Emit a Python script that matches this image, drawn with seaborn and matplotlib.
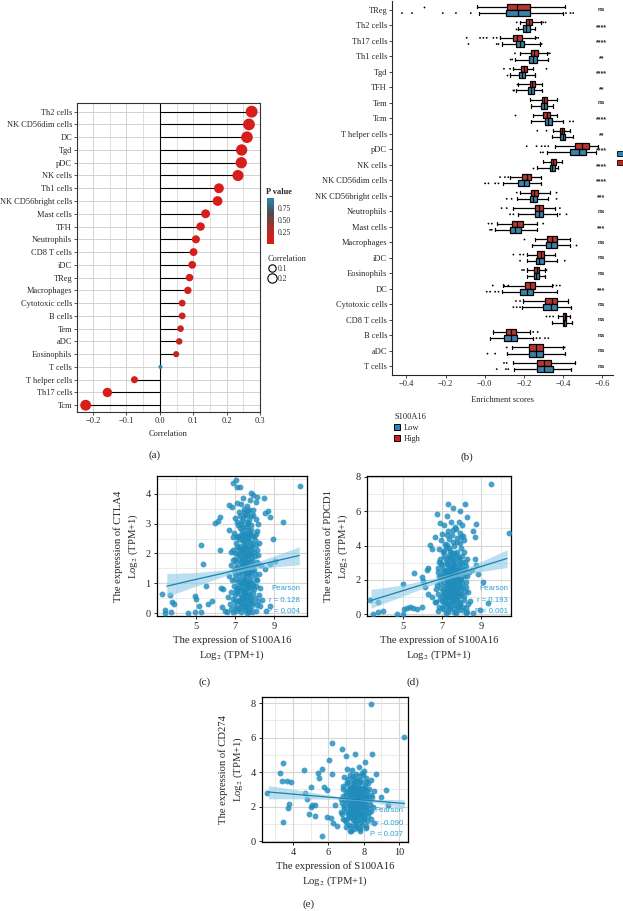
import numpy as np
import pandas as pd
import matplotlib
matplotlib.use('Agg')
import matplotlib.pyplot as plt
from matplotlib.colors import LinearSegmentedColormap, Normalize
from matplotlib.lines import Line2D
from matplotlib.patches import Patch, Rectangle
import seaborn as sns

# ---------------- (a) correlation lollipop ----------------
corr_cells = ['Th2 cells', 'NK CD56dim cells', 'DC', 'Tgd', 'pDC', 'NK cells', 'Th1 cells',
              'NK CD56bright cells', 'Mast cells', 'TFH', 'Neutrophils', 'CD8 T cells', 'iDC',
              'TReg', 'Macrophages', 'Cytotoxic cells', 'B cells', 'Tem', 'aDC', 'Eosinophils',
              'T cells', 'T helper cells', 'Th17 cells', 'Tcm']
corr_values = [0.275, 0.267, 0.261, 0.245, 0.244, 0.234, 0.177, 0.173, 0.137, 0.122, 0.108,
               0.101, 0.097, 0.089, 0.084, 0.067, 0.067, 0.062, 0.058, 0.049, 0.002, -0.076,
               -0.157, -0.222]
corr_pvalues = [0.0, 0.0, 0.0, 0.0, 0.0, 0.0, 0.0, 0.0, 0.001, 0.005, 0.01, 0.02, 0.02, 0.04,
                0.05, 0.11, 0.12, 0.14, 0.17, 0.25, 0.96, 0.08, 0.0, 0.0]

# ---------------- (b) enrichment boxplots ----------------
b_cells = ['TReg', 'Th2 cells', 'Th17 cells', 'Th1 cells', 'Tgd', 'TFH', 'Tem', 'Tcm',
           'T helper cells', 'pDC', 'NK cells', 'NK CD56dim cells', 'NK CD56bright cells',
           'Neutrophils', 'Mast cells', 'Macrophages', 'iDC', 'Eosinophils', 'DC',
           'Cytotoxic cells', 'CD8 T cells', 'B cells', 'aDC', 'T cells']
sig_labels = ['ns', '****', '****', '**', '****', '**', 'ns', '****', '**', '****', '****',
              '****', '***', 'ns', '***', 'ns', 'ns', 'ns', '***', 'ns', 'ns', 'ns', 'ns', 'ns']
# five-number summaries (low whisker, q1, median, q3, high whisker)
high_five = [(-0.041, 0.115, 0.166, 0.231, 0.408), (0.180, 0.210, 0.225, 0.242, 0.285),
             (0.078, 0.146, 0.166, 0.192, 0.256), (0.180, 0.234, 0.251, 0.270, 0.315),
             (0.146, 0.185, 0.200, 0.215, 0.247), (0.171, 0.231, 0.242, 0.256, 0.290),
             (0.231, 0.290, 0.303, 0.319, 0.370), (0.247, 0.298, 0.315, 0.332, 0.370),
             (0.349, 0.383, 0.393, 0.405, 0.434), (0.358, 0.459, 0.498, 0.532, 0.578),
             (0.298, 0.337, 0.349, 0.363, 0.392), (0.129, 0.188, 0.214, 0.234, 0.285),
             (0.180, 0.236, 0.253, 0.273, 0.332), (0.146, 0.256, 0.276, 0.298, 0.358),
             (0.061, 0.137, 0.166, 0.197, 0.264), (0.256, 0.315, 0.341, 0.366, 0.437),
             (0.214, 0.264, 0.285, 0.303, 0.358), (0.214, 0.253, 0.264, 0.278, 0.307),
             (0.095, 0.205, 0.231, 0.258, 0.341), (0.197, 0.307, 0.341, 0.370, 0.425),
             (0.375, 0.400, 0.410, 0.414, 0.434), (0.044, 0.107, 0.132, 0.158, 0.231),
             (0.137, 0.227, 0.259, 0.295, 0.400), (0.146, 0.264, 0.303, 0.336, 0.459)]
low_five = [(-0.029, 0.108, 0.171, 0.231, 0.400), (0.171, 0.193, 0.210, 0.231, 0.256),
            (0.086, 0.158, 0.180, 0.202, 0.281), (0.154, 0.225, 0.244, 0.264, 0.324),
            (0.129, 0.175, 0.188, 0.205, 0.256), (0.159, 0.222, 0.237, 0.253, 0.290),
            (0.234, 0.286, 0.302, 0.319, 0.349), (0.236, 0.307, 0.324, 0.341, 0.400),
            (0.341, 0.386, 0.398, 0.408, 0.451), (0.315, 0.437, 0.481, 0.514, 0.569),
            (0.264, 0.332, 0.344, 0.358, 0.375), (0.095, 0.171, 0.200, 0.225, 0.285),
            (0.163, 0.231, 0.247, 0.268, 0.324), (0.171, 0.256, 0.276, 0.298, 0.366),
            (0.053, 0.129, 0.154, 0.183, 0.264), (0.239, 0.310, 0.336, 0.366, 0.434),
            (0.214, 0.259, 0.278, 0.302, 0.366), (0.214, 0.251, 0.263, 0.275, 0.307),
            (0.086, 0.180, 0.214, 0.247, 0.366), (0.188, 0.298, 0.336, 0.370, 0.442),
            (0.344, 0.400, 0.405, 0.412, 0.447), (0.027, 0.098, 0.132, 0.163, 0.247),
            (0.112, 0.224, 0.259, 0.295, 0.408), (0.149, 0.264, 0.303, 0.346, 0.442)]
high_outliers = [[-0.312], [0.163, 0.29, 0.298, 0.31],
                 [-0.092, -0.024, -0.007, 0.01, 0.044, 0.061, 0.264, 0.273],
                 [0.154, 0.324, 0.332], [0.098, 0.129, 0.315], [0.163], [], [0.154],
                 [0.268, 0.315], [0.214, 0.264, 0.29, 0.307, 0.324], [], [0.078, 0.103, 0.12],
                 [0.163, 0.366], [0.086, 0.112, 0.383], [0.019, 0.036, 0.298], [0.2],
                 [0.146, 0.18, 0.197], [0.19, 0.2, 0.315],
                 [0.041, 0.098, 0.12, 0.349, 0.366, 0.383], [0.159, 0.18],
                 [0.315, 0.332, 0.349], [0.247, 0.27], [0.112, 0.408], [0.098, 0.112]]
low_outliers = [[-0.422, -0.371, -0.214, -0.147, -0.071, 0.414, 0.437, 0.451], [0.159],
                [-0.083, 0.061, 0.07, 0.29], [0.132, 0.14], [0.112], [0.146, 0.15], [],
                [0.434, 0.451], [], [0.285, 0.297], [0.247], [0.002, 0.019, 0.053, 0.07],
                [0.112, 0.137, 0.366], [0.129, 0.146, 0.383, 0.417], [0.027, 0.036], [0.464],
                [0.18, 0.408], [], [0.01, 0.027, 0.053, 0.07], [0.146, 0.163, 0.18], [],
                [0.264, 0.281, 0.307, 0.324], [0.014, 0.053], [0.061, 0.108, 0.12]]
b_tick_values = [-0.4, -0.2, 0.0, 0.2, 0.4, 0.6]
b_tick_labels = ['\u22120.4', '\u22120.2', '\u22120.0', '\u22120.2', '\u22120.4', '\u22120.6']

# ---------------- (c) CTLA4 vs S100A16 ----------------
c_points = [(3.24, 0.63), (3.67, 0.6), (3.75, 0.38), (3.88, 0.3), (3.41, 0.11), (3.41, 0.0),
            (3.7, 0.02), (4.6, 0.0), (4.94, 0.02), (4.97, 0.58), (5.0, 0.47), (5.17, 0.24),
            (5.25, 0.02), (5.34, 1.63), (5.25, 2.29), (5.5, 0.9), (5.6, 0.3), (5.8, 0.41),
            (5.97, 3.02), (6.15, 3.08), (6.23, 2.13), (6.23, 3.24), (6.32, 0.2), (6.49, 0.08),
            (6.28, 0.85), (6.4, 0.8), (6.88, 4.36), (7.12, 4.24), (7.05, 4.47), (7.26, 4.22),
            (6.69, 3.63), (6.83, 3.56), (7.29, 3.67), (7.85, 4.02), (8.11, 3.91), (8.06, 3.74),
            (7.68, 3.44), (8.5, 3.86), (8.53, 3.36), (8.7, 3.41), (8.79, 3.24), (9.46, 3.06),
            (10.35, 4.26), (8.95, 2.5), (9.05, 1.75), (8.79, 1.63), (8.53, 1.47), (8.79, 0.22),
            (8.62, 0.08), (8.28, 0.24),
            (6.6, 0.05), (6.9, 0.02), (7.05, 0.08), (7.3, 0.03), (7.5, 0.1), (7.7, 0.05),
            (7.9, 0.02), (8.1, 0.07), (7.2, 0.12), (7.6, 0.0),
            (6.75, 0.3), (7.0, 0.25), (7.15, 0.4), (7.35, 0.35), (7.55, 0.28), (7.75, 0.45),
            (7.95, 0.33), (8.2, 0.4), (7.45, 0.5), (6.9, 0.48), (7.85, 0.2),
            (6.8, 0.7), (7.0, 0.6), (7.1, 0.85), (7.25, 0.65), (7.4, 0.95), (7.5, 0.72),
            (7.65, 0.58), (7.8, 0.88), (7.95, 0.66), (8.1, 0.9), (7.3, 0.8), (7.6, 0.98),
            (6.95, 0.92), (7.7, 0.75), (8.25, 0.6),
            (6.85, 1.1), (7.0, 1.3), (7.15, 1.05), (7.3, 1.4), (7.45, 1.15), (7.55, 1.35),
            (7.7, 1.05), (7.85, 1.25), (8.0, 1.45), (8.15, 1.1), (7.2, 1.25), (7.6, 1.48),
            (7.4, 1.0), (7.9, 1.02), (6.95, 1.45),
            (6.8, 1.6), (7.0, 1.8), (7.1, 1.55), (7.25, 1.95), (7.35, 1.7), (7.5, 1.6),
            (7.65, 1.85), (7.75, 1.55), (7.9, 1.75), (8.05, 1.9), (8.2, 1.65), (7.45, 1.92),
            (7.15, 1.98), (7.6, 1.7), (7.85, 1.98),
            (6.9, 2.1), (7.05, 2.35), (7.2, 2.15), (7.35, 2.45), (7.5, 2.25), (7.6, 2.05),
            (7.75, 2.4), (7.9, 2.2), (8.05, 2.45), (7.3, 2.05), (7.65, 2.5), (8.15, 2.1),
            (7.0, 2.0), (7.45, 2.38),
            (6.95, 2.7), (7.1, 2.55), (7.25, 2.85), (7.4, 2.6), (7.55, 2.9), (7.7, 2.65),
            (7.85, 2.95), (8.0, 2.6), (7.3, 3.0), (7.65, 2.8), (8.15, 2.75), (7.15, 2.95),
            (7.0, 3.2), (7.2, 3.4), (7.35, 3.1), (7.5, 3.3), (7.6, 3.05), (7.8, 3.25),
            (7.95, 3.45), (8.1, 3.15), (7.45, 3.5), (7.7, 3.45),
            (7.1, 3.7), (7.4, 3.85), (7.6, 3.6), (7.75, 3.8), (7.95, 3.95),
            (7.22, 0.45), (7.38, 0.55), (7.52, 0.4), (7.68, 0.3), (7.82, 0.52), (7.28, 1.12),
            (7.42, 1.32), (7.58, 1.2), (7.72, 1.38), (7.88, 1.5), (7.32, 1.55), (7.48, 1.75),
            (7.62, 1.58), (7.78, 1.68), (7.92, 1.52), (7.26, 2.25), (7.42, 2.18), (7.58, 2.32),
            (7.72, 2.22), (7.86, 2.32), (7.36, 2.75), (7.52, 2.7), (7.66, 2.98), (7.8, 2.78),
            (7.12, 0.72), (7.02, 1.15), (7.08, 1.7), (7.18, 2.6), (7.98, 0.8), (8.02, 1.3),
            (8.08, 2.3), (7.55, 0.85), (7.45, 0.62), (7.65, 0.92), (7.35, 1.82), (7.7, 1.95),
            (7.5, 2.5), (7.4, 3.2), (7.6, 3.3), (7.3, 0.2),
            (6.65, 0.55), (6.72, 1.25), (6.78, 2.05), (6.82, 0.12), (6.88, 1.78), (6.92, 2.55),
            (6.98, 0.4), (7.03, 0.78), (7.06, 1.52), (7.09, 2.2), (7.11, 3.05), (7.13, 0.18),
            (7.17, 1.38), (7.19, 1.82), (7.21, 2.48), (7.23, 0.88), (7.24, 3.25), (7.27, 0.32),
            (7.29, 1.68), (7.31, 2.62), (7.33, 1.02), (7.34, 0.52), (7.37, 2.1), (7.39, 0.78),
            (7.41, 1.58), (7.43, 2.88), (7.44, 0.25), (7.46, 1.1), (7.47, 2.02), (7.49, 3.4),
            (7.51, 1.48), (7.53, 0.68), (7.54, 2.62), (7.56, 1.88), (7.57, 0.18), (7.59, 1.05),
            (7.61, 2.15), (7.62, 0.48), (7.64, 1.72), (7.66, 2.55), (7.67, 1.32), (7.69, 0.88),
            (7.71, 3.12), (7.73, 0.15), (7.74, 2.0), (7.76, 1.12), (7.77, 2.7), (7.79, 0.62),
            (7.81, 1.42), (7.83, 2.12), (7.84, 0.35), (7.87, 1.85), (7.89, 2.58), (7.91, 0.95),
            (7.93, 3.3), (7.96, 1.62), (7.99, 2.05), (8.03, 0.5), (8.06, 1.15), (8.09, 2.65),
            (8.12, 1.72), (8.14, 0.28), (8.18, 1.95), (8.22, 1.3), (8.26, 2.35), (8.3, 0.85),
            (8.35, 1.6), (8.4, 0.45), (6.7, 2.8), (8.2, 3.0)]
c_fit_x = [3.5, 5.0, 6.5, 7.5, 8.5, 10.3]
c_fit_y = [0.90, 1.13, 1.35, 1.51, 1.66, 1.93]
c_fit_lo = [0.55, 0.90, 1.25, 1.43, 1.52, 1.62]
c_fit_hi = [1.32, 1.36, 1.45, 1.59, 1.80, 2.22]

# ---------------- (d) PDCD1 vs S100A16 ----------------
d_points = [(9.48, 7.59), (10.38, 4.76), (3.35, 0.85), (3.49, 0.0), (3.77, 0.14), (4.03, 0.19),
            (3.77, 0.71), (4.71, 0.0), (5.04, 0.0), (5.08, 0.32), (5.22, 0.38), (5.38, 0.42),
            (5.55, 0.36), (5.72, 0.32), (5.97, 0.42), (5.04, 1.74), (5.58, 2.39), (5.97, 2.15),
            (6.05, 1.95), (6.22, 2.56), (6.3, 2.72), (6.39, 4.05), (6.47, 3.8), (6.64, 4.47),
            (6.73, 5.82), (6.9, 5.34), (7.32, 6.4), (7.24, 5.72), (8.17, 6.4), (7.91, 6.01),
            (7.58, 6.2), (8.25, 5.64), (8.59, 4.87), (8.75, 5.26), (8.67, 4.49), (8.67, 3.24),
            (8.5, 2.56), (8.75, 2.85), (8.84, 2.37), (9.09, 1.88), (9.35, 0.63), (8.92, 0.24),
            (8.59, 0.05), (8.25, 0.14), (6.13, 1.58), (6.3, 1.2), (6.52, 1.0), (6.64, 0.71),
            (6.8, 0.2), (7.0, 0.35), (7.2, 0.1), (7.4, 0.3), (7.6, 0.15), (7.8, 0.4), (8.0, 0.25),
            (8.2, 0.1), (7.3, 0.45), (7.7, 0.05),
            (6.7, 0.7), (6.9, 0.9), (7.1, 0.6), (7.3, 0.8), (7.5, 0.65), (7.7, 0.95), (7.9, 0.7),
            (8.1, 0.85), (8.3, 0.6), (7.45, 0.98), (7.15, 0.85), (7.85, 0.55),
            (6.8, 1.2), (7.0, 1.05), (7.2, 1.4), (7.35, 1.15), (7.5, 1.3), (7.65, 1.1),
            (7.8, 1.45), (7.95, 1.2), (8.15, 1.35), (7.4, 1.48), (7.1, 1.25), (7.6, 1.4),
            (6.75, 1.7), (6.95, 1.55), (7.1, 1.9), (7.25, 1.65), (7.4, 1.85), (7.55, 1.6),
            (7.7, 1.95), (7.85, 1.75), (8.0, 1.6), (8.2, 1.9), (7.45, 1.72), (7.65, 1.58),
            (6.85, 2.2), (7.05, 2.4), (7.2, 2.1), (7.35, 2.3), (7.5, 2.45), (7.65, 2.15),
            (7.8, 2.35), (7.95, 2.05), (8.1, 2.4), (7.3, 2.48), (7.6, 2.3), (8.25, 2.2),
            (6.8, 2.7), (7.0, 2.9), (7.15, 2.6), (7.3, 2.85), (7.45, 2.65), (7.6, 2.95),
            (7.75, 2.7), (7.9, 2.9), (8.05, 2.6), (8.2, 2.8), (7.55, 2.55), (7.25, 2.52),
            (6.9, 3.2), (7.1, 3.4), (7.25, 3.1), (7.4, 3.35), (7.55, 3.15), (7.7, 3.45),
            (7.85, 3.2), (8.0, 3.4), (8.15, 3.05), (7.35, 3.48),
            (6.85, 3.8), (7.05, 3.6), (7.2, 3.9), (7.4, 3.7), (7.6, 3.95), (7.75, 3.65),
            (7.95, 3.85), (8.1, 3.6), (7.5, 3.55),
            (6.95, 4.3), (7.15, 4.1), (7.35, 4.4), (7.55, 4.2), (7.75, 4.45), (7.9, 4.15),
            (8.1, 4.35), (7.25, 4.05),
            (7.0, 4.7), (7.3, 4.85), (7.5, 4.6), (7.7, 4.95), (7.9, 4.75), (8.05, 4.55),
            (7.1, 5.2), (7.45, 5.35), (7.65, 5.1), (7.85, 5.4), (8.0, 5.2),
            (7.3, 0.6), (7.5, 0.9), (7.7, 0.75), (7.35, 1.35), (7.55, 1.15), (7.75, 1.25),
            (7.3, 1.95), (7.5, 2.05), (7.7, 1.8), (7.4, 2.7), (7.6, 2.75), (7.8, 2.55),
            (7.2, 0.95), (7.9, 1.05), (7.45, 3.05), (7.65, 3.25), (7.2, 2.25), (7.85, 2.0),
            (6.72, 1.45), (6.78, 2.45), (6.83, 0.45), (6.87, 3.05), (6.92, 1.8), (6.97, 2.15),
            (7.02, 0.75), (7.04, 1.35), (7.07, 2.65), (7.1, 3.7), (7.12, 0.3), (7.14, 1.62),
            (7.17, 2.3), (7.19, 3.2), (7.22, 0.65), (7.24, 1.18), (7.26, 2.0), (7.28, 2.9),
            (7.31, 1.45), (7.33, 0.15), (7.35, 2.58), (7.37, 3.85), (7.39, 1.02), (7.41, 2.15),
            (7.43, 0.42), (7.46, 1.88), (7.48, 3.25), (7.5, 1.1), (7.52, 2.32), (7.54, 0.78),
            (7.56, 2.85), (7.58, 1.72), (7.6, 0.35), (7.62, 3.55), (7.64, 1.95), (7.66, 2.55),
            (7.68, 0.55), (7.7, 1.35), (7.72, 2.12), (7.74, 4.2), (7.76, 0.9), (7.78, 2.98),
            (7.8, 1.65), (7.82, 0.25), (7.84, 2.42), (7.86, 3.35), (7.88, 1.22), (7.9, 2.05),
            (7.93, 0.62), (7.96, 2.75), (7.98, 1.45), (8.01, 3.05), (8.04, 1.85), (8.07, 0.45),
            (8.1, 2.2), (8.13, 1.05), (8.16, 2.65), (8.2, 1.6), (8.24, 0.35), (8.28, 3.2),
            (8.32, 1.3), (8.36, 2.45), (8.4, 0.8), (7.55, 4.9), (7.25, 4.6), (7.95, 4.5),
            (6.95, 2.9), (7.15, 1.05)]
d_fit_x = [3.4, 5.0, 6.5, 7.5, 8.5, 10.3]
d_fit_y = [0.80, 1.37, 1.90, 2.26, 2.61, 3.25]
d_fit_lo = [0.35, 1.05, 1.72, 2.13, 2.40, 2.72]
d_fit_hi = [1.45, 1.70, 2.08, 2.38, 2.82, 3.75]

# ---------------- (e) CD274 vs S100A16 ----------------
e_points = [(8.42, 7.96), (10.29, 6.03), (2.52, 2.76), (3.44, 4.53), (3.26, 3.95), (3.35, 3.49),
            (3.64, 3.49), (3.89, 3.43), (3.74, 2.13), (3.7, 1.94), (3.44, 1.1), (4.6, 4.1),
            (4.7, 2.76), (4.8, 2.47), (4.99, 3.14), (5.05, 2.08), (5.0, 1.98), (5.26, 2.08),
            (4.9, 1.56), (5.26, 1.44), (5.4, 3.95), (5.47, 3.68), (5.62, 4.2), (5.72, 3.14),
            (5.9, 2.95), (5.62, 0.29), (5.9, 1.4), (6.02, 4.72), (6.2, 3.91), (6.2, 5.68),
            (6.77, 5.33), (7.0, 4.91), (7.48, 5.06), (8.45, 5.02), (8.07, 4.59), (6.36, 2.08),
            (6.13, 1.34), (6.27, 1.05), (6.51, 0.86), (7.2, 0.57), (7.76, 0.57), (8.13, 0.76),
            (8.6, 1.05), (8.42, 3.52), (8.7, 3.91), (9.26, 2.95), (8.98, 2.57), (9.36, 2.08),
            (7.0, 0.8), (7.3, 0.6), (7.55, 0.9), (7.8, 0.7), (8.1, 0.85), (7.15, 0.95),
            (6.8, 1.3), (7.0, 1.1), (7.2, 1.4), (7.4, 1.2), (7.6, 1.45), (7.8, 1.05), (8.0, 1.35),
            (8.2, 1.15), (7.5, 1.0), (8.4, 1.3),
            (6.7, 1.7), (6.9, 1.9), (7.1, 1.55), (7.3, 1.8), (7.5, 1.65), (7.7, 1.95), (7.9, 1.6),
            (8.1, 1.85), (8.3, 1.7), (7.4, 1.98), (7.6, 1.52), (8.0, 1.75),
            (6.75, 2.2), (6.95, 2.4), (7.15, 2.1), (7.35, 2.35), (7.55, 2.15), (7.75, 2.45),
            (7.95, 2.2), (8.15, 2.4), (8.35, 2.1), (7.45, 2.48), (7.65, 2.3), (7.85, 2.05),
            (8.05, 2.3), (7.25, 2.25),
            (6.8, 2.6), (7.0, 2.85), (7.2, 2.65), (7.4, 2.9), (7.6, 2.55), (7.8, 2.8), (8.0, 2.6),
            (8.2, 2.9), (8.4, 2.7), (7.3, 2.52), (7.5, 2.75), (7.7, 2.98), (7.9, 2.7), (8.1, 2.55),
            (7.1, 2.95),
            (6.85, 3.2), (7.05, 3.4), (7.25, 3.1), (7.45, 3.3), (7.65, 3.15), (7.85, 3.45),
            (8.05, 3.2), (8.25, 3.35), (7.55, 3.48), (7.35, 3.05), (7.95, 3.05),
            (6.9, 3.7), (7.2, 3.85), (7.4, 3.6), (7.7, 3.75), (7.9, 3.95), (8.15, 3.65),
            (7.55, 3.9), (7.05, 4.2), (7.35, 4.1), (7.75, 4.3), (8.0, 4.05),
            (7.3, 1.6), (7.5, 1.85), (7.7, 1.7), (7.4, 2.1), (7.6, 2.4), (7.8, 2.25), (7.45, 2.65),
            (7.65, 2.85), (7.85, 2.6), (7.35, 2.75), (7.55, 3.0), (7.75, 3.1), (7.2, 1.85),
            (8.0, 2.5), (7.95, 2.95), (7.25, 2.95), (7.65, 1.25), (7.45, 1.4),
            (6.72, 2.45), (6.78, 1.55), (6.82, 3.0), (6.88, 2.05), (6.92, 1.25), (6.97, 2.7),
            (7.02, 1.75), (7.04, 3.3), (7.07, 2.25), (7.1, 1.35), (7.12, 3.6), (7.15, 2.5),
            (7.18, 1.65), (7.2, 3.05), (7.22, 2.0), (7.25, 0.85), (7.27, 2.8), (7.3, 2.15),
            (7.32, 3.35), (7.34, 1.4), (7.37, 2.45), (7.39, 3.75), (7.41, 1.75), (7.43, 2.95),
            (7.46, 2.25), (7.48, 1.15), (7.5, 3.2), (7.52, 2.0), (7.54, 2.6), (7.56, 1.45),
            (7.58, 3.55), (7.6, 2.2), (7.62, 1.75), (7.64, 2.95), (7.66, 0.75), (7.68, 2.5),
            (7.7, 3.35), (7.72, 1.45), (7.74, 2.15), (7.76, 2.85), (7.78, 1.85), (7.8, 3.55),
            (7.82, 2.4), (7.84, 1.2), (7.86, 3.0), (7.88, 2.05), (7.9, 1.5), (7.92, 2.65),
            (7.94, 3.85), (7.96, 1.95), (7.98, 2.4), (8.01, 1.25), (8.03, 3.1), (8.06, 2.15),
            (8.09, 1.6), (8.12, 2.75), (8.15, 3.4), (8.18, 1.95), (8.22, 2.55), (8.26, 1.45),
            (8.3, 3.0), (8.34, 2.35), (8.38, 1.75), (8.44, 2.55), (8.5, 1.95), (8.55, 2.9),
            (7.45, 0.7), (7.9, 0.95)]
e_fit_x = [2.6, 4.5, 6.5, 7.5, 8.5, 10.3]
e_fit_y = [2.85, 2.68, 2.51, 2.42, 2.34, 2.18]
e_fit_lo = [2.45, 2.45, 2.43, 2.37, 2.25, 1.92]
e_fit_hi = [3.22, 2.92, 2.60, 2.48, 2.43, 2.40]

# ---------------- style ----------------
sns.set_style('white')
plt.rcParams['font.family'] = ['Liberation Serif', 'DejaVu Serif']
plt.rcParams['mathtext.fontset'] = 'stix'
SANS = ['Liberation Sans', 'DejaVu Sans']
RED = '#d01f1c'
BLUE = '#2a86b8'
PT_BLUE = '#1f8cbc'
TXT_BLUE = '#2a9fd6'

W, H = 623, 911
fig = plt.figure(figsize=(W / 100, H / 100), dpi=100)


def px_axes(left, top, right, bottom):
    return fig.add_axes([left / W, 1 - bottom / H, (right - left) / W, (bottom - top) / H])


# ================= panel (a) =================
pval_cmap = LinearSegmentedColormap.from_list('pv', ['#d81e1a', '#b52a27', '#4d4d4d', '#2b84b5'],
                                              N=256)
ax_a = px_axes(77, 103, 260, 412)
pos = np.arange(len(corr_cells))
df_a = pd.DataFrame({'r': corr_values, 'pos': pos, 'p': corr_pvalues,
                     'size': np.abs(corr_values)})
ax_a.hlines(df_a['pos'], 0, df_a['r'], color='black', lw=0.8, zorder=2)
ax_a.axvline(0, color='black', lw=0.8, zorder=2)
sns.scatterplot(data=df_a, x='r', y='pos', hue='p', palette=pval_cmap, hue_norm=(0, 0.95),
                size='size', sizes=(8, 75), size_norm=(0, 0.28), linewidth=0, legend=False,
                ax=ax_a, zorder=3)
ax_a.set_ylim(len(corr_cells) - 1 + 0.53, -0.68)
ax_a.set_yticks(pos)
ax_a.set_yticklabels(corr_cells)
ax_a.set_xlim(-0.248, 0.300)
ax_a.set_xticks([-0.2, -0.1, 0.0, 0.1, 0.2, 0.3])
ax_a.set_xticks([-0.15, -0.05, 0.05, 0.15, 0.25], minor=True)
ax_a.grid(True, which='major', color='#d2d2d2', lw=0.7)
ax_a.grid(True, which='minor', axis='x', color='#d2d2d2', lw=0.5)
ax_a.set_axisbelow(True)
ax_a.tick_params(axis='both', which='major', labelsize=6, length=2, width=0.6, color='#333333',
                 pad=1.5, left=True, bottom=True)
ax_a.tick_params(which='minor', length=0)
for s in ax_a.spines.values():
    s.set_color('#333333')
    s.set_linewidth(0.8)
ax_a.set_xlabel('Correlation', fontsize=6, labelpad=4)
ax_a.set_ylabel('')

cax = px_axes(267, 198, 274, 244)
cb = fig.colorbar(plt.cm.ScalarMappable(norm=Normalize(0, 0.95), cmap=pval_cmap), cax=cax)
cb.set_ticks([0.25, 0.5, 0.75])
cb.set_ticklabels(['0.25', '0.50', '0.75'])
cb.outline.set_visible(False)
cax.tick_params(labelsize=5.5, length=1.5, width=0.5, color='white', pad=1)
fig.text(266 / W, 1 - 192 / H, 'P value', fontsize=6, fontweight='bold', va='center')

size_handles = [Line2D([], [], marker='o', ls='', markerfacecolor='none', markeredgecolor='black',
                       markeredgewidth=0.8, markersize=5.3),
                Line2D([], [], marker='o', ls='', markerfacecolor='none', markeredgecolor='black',
                       markeredgewidth=0.8, markersize=6.7)]
fig.legend(size_handles, ['0.1', '0.2'], title='Correlation', loc='upper left',
           bbox_to_anchor=(264 / W, 1 - 251 / H), frameon=False, fontsize=5.5,
           title_fontsize=6, handletextpad=0.3, labelspacing=0.25, borderpad=0,
           handlelength=1.0, alignment='left')
fig.text(155 / W, 1 - 455 / H, '(a)', fontsize=8, ha='center', va='center')

# ================= panel (b) =================
rows = []
for cell, hf, lf in zip(b_cells, high_five, low_five):
    for v in hf:
        rows.append((cell, 'High', v))
    for v in lf:
        rows.append((cell, 'Low', v))
box_df = pd.DataFrame(rows, columns=['cell', 'group', 'score'])
out_rows = []
for cell, ho, lo in zip(b_cells, high_outliers, low_outliers):
    for v in ho:
        out_rows.append((cell, 'High', v))
    for v in lo:
        out_rows.append((cell, 'Low', v))
out_df = pd.DataFrame(out_rows, columns=['cell', 'group', 'score'])

ax_b = px_axes(392, 1, 613, 375)
sns.stripplot(data=out_df, x='score', y='cell', hue='group', order=b_cells,
              hue_order=['High', 'Low'], palette={'High': 'black', 'Low': 'black'},
              dodge=True, jitter=False, size=1.3, linewidth=0, legend=False, ax=ax_b, zorder=1)
sns.boxplot(data=box_df, x='score', y='cell', hue='group', order=b_cells,
            hue_order=['High', 'Low'], palette={'High': RED, 'Low': BLUE}, whis=(0, 100),
            showfliers=False, linecolor='black', linewidth=0.9, width=0.8, legend=False,
            ax=ax_b)
ax_b.set_xlim(-0.473, 0.654)
ax_b.set_ylim(len(b_cells) - 1 + 0.58, -0.58)
ax_b.set_xticks(b_tick_values)
ax_b.set_xticklabels(b_tick_labels)
ax_b.tick_params(axis='both', labelsize=6, length=2, width=0.6, pad=1.5, left=True, bottom=True)
sns.despine(ax=ax_b)
ax_b.spines['left'].set_linewidth(0.8)
ax_b.spines['bottom'].set_linewidth(0.8)
ax_b.set_ylabel('')
ax_b.set_xlabel('Enrichment scores', fontsize=6, labelpad=6)
for i, lab in enumerate(sig_labels):
    ax_b.text(0.595, i + (0.12 if '*' in lab else 0.0), lab, ha='center', va='center',
              fontsize=4.5 if lab == 'ns' else 5, fontweight='bold', family=SANS, clip_on=False)

fig.legend([Patch(facecolor=BLUE, edgecolor='black', lw=0.7),
            Patch(facecolor=RED, edgecolor='black', lw=0.7)], ['Low', 'High'],
           title='S100A16', loc='upper left', bbox_to_anchor=(390 / W, 1 - 409 / H),
           frameon=False, fontsize=6, title_fontsize=6, handlelength=0.7, handleheight=0.8,
           handletextpad=0.4, labelspacing=0.35, borderpad=0, alignment='left')
# clipped legend keys at the right edge of (b)
fig.patches.append(Rectangle((617 / W, 1 - 156 / H), 8 / W, 5 / H, transform=fig.transFigure,
                             facecolor=BLUE, edgecolor='black', lw=0.6))
fig.patches.append(Rectangle((617 / W, 1 - 165 / H), 8 / W, 5 / H, transform=fig.transFigure,
                             facecolor=RED, edgecolor='black', lw=0.6))
fig.text(467 / W, 1 - 457 / H, '(b)', fontsize=8, ha='center', va='center')


# ================= scatter panels =================
def draw_scatter(ax, points, fit_x, fit_y, fit_lo, fit_hi, xlim, ylim, xmajor, xminor,
                 ymajor, yminor, gene, stats, text_x, text_ys):
    df = pd.DataFrame(points, columns=['x', 'y'])
    sns.scatterplot(data=df, x='x', y='y', color=PT_BLUE, alpha=0.82, s=18, linewidth=0,
                    ax=ax, zorder=3)
    ax.fill_between(fit_x, fit_lo, fit_hi, color='#8ccbe6', alpha=0.6, lw=0, zorder=4)
    sns.lineplot(x=fit_x, y=fit_y, color='#1c7fae', lw=0.9, ax=ax, zorder=5)
    ax.set_xlim(*xlim)
    ax.set_ylim(*ylim)
    ax.set_xticks(xmajor)
    ax.set_xticks(xminor, minor=True)
    ax.set_yticks(ymajor)
    ax.set_yticks(yminor, minor=True)
    ax.grid(True, which='major', color='#d6d6d6', lw=0.8)
    ax.grid(True, which='minor', color='#e2e2e2', lw=0.5)
    ax.set_axisbelow(True)
    ax.tick_params(which='major', labelsize=7.5, length=2.5, width=0.7, pad=2,
                   left=True, bottom=True)
    ax.tick_params(which='minor', length=0)
    for s in ax.spines.values():
        s.set_color('black')
        s.set_linewidth(0.9)
    ax.set_xlabel('The expression of S100A16\nLog$_2$ (TPM+1)', fontsize=7.7, labelpad=3,
                  linespacing=1.35)
    ax.set_ylabel('The expression of ' + gene + '\nLog$_2$ (TPM+1)', fontsize=7.7,
                  labelpad=4, linespacing=1.35)
    for t, ty in zip(stats, text_ys):
        ax.text(text_x, ty, t, transform=ax.transAxes, ha='right', va='center',
                fontsize=5.6, color=TXT_BLUE, family=SANS, zorder=6)


ax_c = px_axes(157, 476, 307, 616)
draw_scatter(ax_c, c_points, c_fit_x, c_fit_y, c_fit_lo, c_fit_hi, (3.0, 10.7), (-0.1, 4.6),
             [5, 7, 9], [4, 6, 8, 10], [0, 1, 2, 3, 4], [0.5, 1.5, 2.5, 3.5, 4.5], 'CTLA4',
             ['Pearson', 'r = 0.128', 'P = 0.004'], 0.955, [0.2, 0.114, 0.029])
fig.text(205 / W, 1 - 682 / H, '(c)', fontsize=8, ha='center', va='center')

ax_d = px_axes(367, 476, 511, 616)
draw_scatter(ax_d, d_points, d_fit_x, d_fit_y, d_fit_lo, d_fit_hi, (3.2, 10.5), (-0.1, 8.05),
             [5, 7, 9], [4, 6, 8, 10], [0, 2, 4, 6, 8], [1, 3, 5, 7], 'PDCD1',
             ['Pearson', 'r = 0.193', 'P < 0.001'], 0.98, [0.2, 0.114, 0.029])
fig.text(413 / W, 1 - 682 / H, '(d)', fontsize=8, ha='center', va='center')

ax_e = px_axes(262, 697, 408, 842)
draw_scatter(ax_e, e_points, e_fit_x, e_fit_y, e_fit_lo, e_fit_hi, (2.24, 10.5), (-0.05, 8.35),
             [4, 6, 8, 10], [3, 5, 7, 9], [0, 2, 4, 6, 8], [1, 3, 5, 7], 'CD274',
             ['Pearson', 'r = -0.090', 'P = 0.037'], 0.966, [0.22, 0.13, 0.055])
fig.text(309 / W, 1 - 904 / H, '(e)', fontsize=8, ha='center', va='center')

fig.savefig('out.png', dpi=100)
